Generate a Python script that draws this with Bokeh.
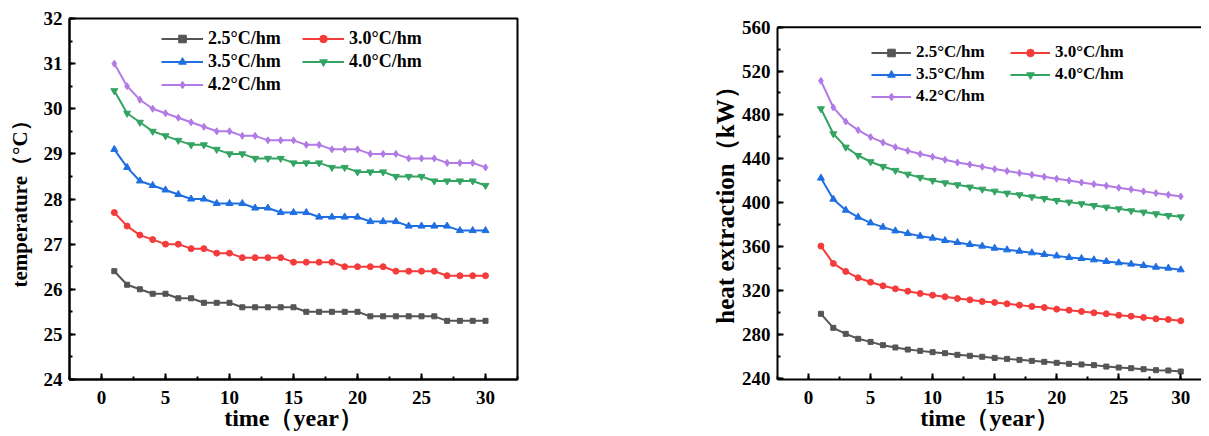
from bokeh.plotting import figure
from bokeh.layouts import row
from bokeh.models import Range1d, SingleIntervalTicker, Span
from bokeh.embed import file_html
from bokeh.resources import INLINE

years = list(range(1, 31))
labels = ["2.5°C/hm", "3.0°C/hm", "3.5°C/hm", "4.0°C/hm", "4.2°C/hm"]
x_title = "time（year）"

temp_25 = [26.4, 26.1, 26.0, 25.9, 25.9, 25.8, 25.8, 25.7, 25.7, 25.7, 25.6, 25.6, 25.6, 25.6, 25.6,
           25.5, 25.5, 25.5, 25.5, 25.5, 25.4, 25.4, 25.4, 25.4, 25.4, 25.4, 25.3, 25.3, 25.3, 25.3]
temp_30 = [27.7, 27.4, 27.2, 27.1, 27.0, 27.0, 26.9, 26.9, 26.8, 26.8, 26.7, 26.7, 26.7, 26.7, 26.6,
           26.6, 26.6, 26.6, 26.5, 26.5, 26.5, 26.5, 26.4, 26.4, 26.4, 26.4, 26.3, 26.3, 26.3, 26.3]
temp_35 = [29.1, 28.7, 28.4, 28.3, 28.2, 28.1, 28.0, 28.0, 27.9, 27.9, 27.9, 27.8, 27.8, 27.7, 27.7,
           27.7, 27.6, 27.6, 27.6, 27.6, 27.5, 27.5, 27.5, 27.4, 27.4, 27.4, 27.4, 27.3, 27.3, 27.3]
temp_40 = [30.4, 29.9, 29.7, 29.5, 29.4, 29.3, 29.2, 29.2, 29.1, 29.0, 29.0, 28.9, 28.9, 28.9, 28.8,
           28.8, 28.8, 28.7, 28.7, 28.6, 28.6, 28.6, 28.5, 28.5, 28.5, 28.4, 28.4, 28.4, 28.4, 28.3]
temp_42 = [31.0, 30.5, 30.2, 30.0, 29.9, 29.8, 29.7, 29.6, 29.5, 29.5, 29.4, 29.4, 29.3, 29.3, 29.3,
           29.2, 29.2, 29.1, 29.1, 29.1, 29.0, 29.0, 29.0, 28.9, 28.9, 28.9, 28.8, 28.8, 28.8, 28.7]

heat_25 = [298.7, 285.9, 280.4, 275.9, 273.1, 270.1, 268.0, 266.1, 264.9, 263.7, 262.8, 261.3, 260.4, 259.5, 258.5,
           257.6, 256.7, 255.8, 254.9, 254.0, 253.1, 252.5, 251.9, 250.6, 249.7, 249.1, 248.2, 247.3, 247.0, 246.1]
heat_30 = [360.4, 344.6, 337.3, 331.5, 327.5, 324.2, 321.5, 319.3, 317.2, 315.7, 314.2, 312.6, 311.4, 309.9, 309.0,
           307.8, 306.6, 305.4, 304.4, 302.9, 302.0, 300.8, 299.6, 298.7, 297.4, 296.5, 295.3, 294.1, 293.5, 292.3]
heat_35 = [422.4, 403.2, 393.2, 386.8, 381.6, 377.7, 374.3, 371.9, 369.5, 367.7, 365.5, 363.7, 361.9, 360.4, 358.5,
           357.0, 355.8, 354.3, 352.8, 351.5, 350.0, 349.1, 347.9, 346.4, 345.2, 344.0, 342.7, 341.2, 340.3, 338.8]
heat_40 = [485.6, 462.8, 450.6, 443.0, 437.3, 433.0, 429.4, 426.0, 423.0, 420.2, 418.1, 416.3, 414.2, 412.3, 410.5,
           408.7, 407.2, 405.3, 403.8, 402.0, 400.5, 399.0, 397.4, 395.9, 394.4, 392.6, 391.4, 389.8, 388.3, 387.1]
heat_42 = [511.1, 486.8, 474.0, 466.1, 459.8, 454.9, 450.6, 447.3, 444.3, 441.8, 439.1, 436.6, 434.8, 432.7, 430.6,
           428.8, 427.0, 425.4, 423.6, 421.8, 420.2, 418.4, 416.9, 415.4, 413.6, 412.1, 410.3, 408.7, 407.2, 405.7]

colors = ["#555555", "#f43c3c", "#1f6fe3", "#34a463", "#b27ae4"]
markers = ["square", "circle", "triangle", "inverted_triangle", "diamond"]
msizes = [5, 6, 7, 7, 7]

FONT = "Liberation Serif"


def style_axis(ax, label, label_size, label_standoff, tick_standoff):
    ax.axis_label = label
    ax.axis_label_text_font = FONT
    ax.axis_label_text_font_style = "bold"
    ax.axis_label_text_font_size = label_size
    ax.axis_label_text_color = "black"
    ax.axis_label_standoff = label_standoff
    ax.major_label_text_font = FONT
    ax.major_label_text_font_style = "bold"
    ax.major_label_text_font_size = "19px"
    ax.major_label_text_color = "black"
    ax.major_label_standoff = tick_standoff
    ax.axis_line_width = 2
    ax.axis_line_color = "black"
    ax.major_tick_in = 6
    ax.major_tick_out = 0
    ax.minor_tick_in = 3
    ax.minor_tick_out = 0
    ax.major_tick_line_width = 2
    ax.minor_tick_line_width = 2
    ax.major_tick_line_color = "black"
    ax.minor_tick_line_color = "black"


def make_fig(width, xr, yr, ystep, mb, ylabel, ylabel_size, ylabel_standoff, series,
             leg_loc, leg_lw, leg_gw, leg_fs, outline):
    p = figure(width=width, height=436, output_backend="svg", toolbar_location=None,
               x_range=Range1d(*xr), y_range=Range1d(*yr),
               min_border_left=mb[0], min_border_right=mb[1], min_border_top=18, min_border_bottom=57)
    p.xgrid.visible = False
    p.ygrid.visible = False
    p.background_fill_color = "white"
    p.border_fill_color = "white"
    if outline:
        p.outline_line_color = "black"
        p.outline_line_width = 2
        p.outline_line_alpha = 1
    else:
        p.outline_line_color = None
    p.xaxis[0].ticker = SingleIntervalTicker(interval=5, num_minor_ticks=2)
    p.yaxis[0].ticker = SingleIntervalTicker(interval=ystep, num_minor_ticks=2)
    style_axis(p.xaxis[0], x_title, "24px", -2, 11)
    style_axis(p.yaxis[0], ylabel, ylabel_size, ylabel_standoff, 7)
    for vals, lab, c, m, s in zip(series, labels, colors, markers, msizes):
        p.line(years, vals, line_color=c, line_width=2, legend_label=lab)
        p.scatter(years, vals, marker=m, size=s, fill_color=c, line_color=c, legend_label=lab)
    lg = p.legend[0]
    lg.location = leg_loc
    lg.orientation = "horizontal"
    lg.ncols = 2
    lg.border_line_color = None
    lg.background_fill_alpha = 0
    lg.padding = 0
    lg.margin = 0
    lg.spacing = 2
    lg.glyph_width = leg_gw
    lg.glyph_height = 19
    lg.label_height = 19
    lg.label_width = leg_lw
    lg.label_standoff = 5
    lg.label_text_font = FONT
    lg.label_text_font_style = "bold"
    lg.label_text_font_size = leg_fs
    lg.label_text_color = "black"
    return p


p1 = make_fig(700, (-2.5, 32.5), (24, 32), 1, (69, 183), "temperature（°C）", "21px", 9,
              [temp_25, temp_30, temp_35, temp_40, temp_42], (92, 284), 92, 42, "18px", True)

p2 = make_fig(501, (-2.5, 31.67), (238.8, 567.9), 40, (77, 0), "heat extraction（kW）", "25px", 0,
              [heat_25, heat_30, heat_35, heat_40, heat_42], (94, 273), 92, 40, "17px", False)
p2.yaxis[0].bounds = (238.8, 560)
p2.add_layout(Span(location=560, dimension="width", line_color="black", line_width=2))

layout = row(p1, p2)
open("out.html", "w").write(file_html(layout, INLINE))
